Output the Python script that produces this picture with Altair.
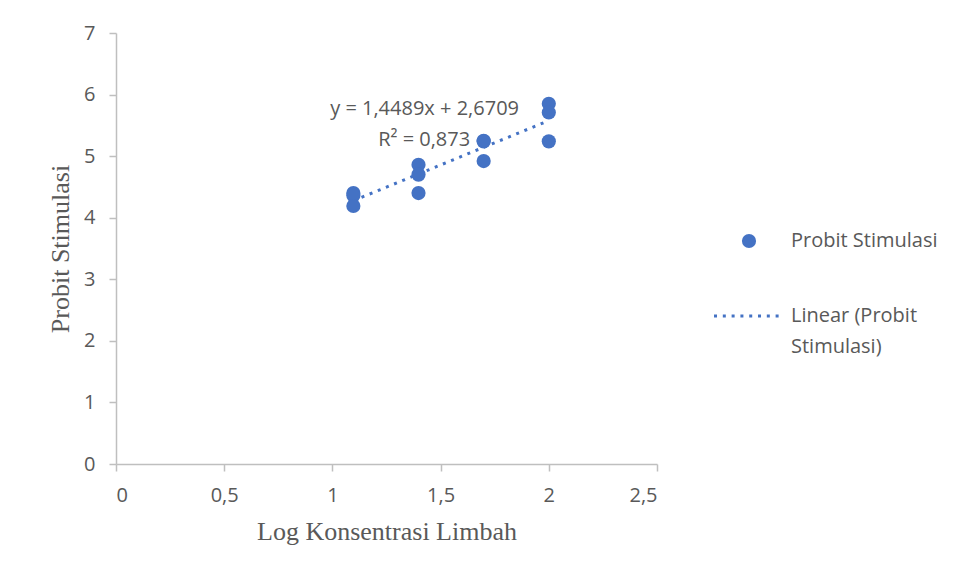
import altair as alt
import pandas as pd

# ---- data ----
log_konsentrasi = [1.0969, 1.0969, 1.0969,
                   1.3979, 1.3979, 1.3979,
                   1.6990, 1.6990, 1.6990,
                   2.0000, 2.0000, 2.0000]
probit = [4.40, 4.36, 4.19,
          4.86, 4.70, 4.40,
          5.25, 5.24, 4.92,
          5.85, 5.71, 5.24]
x_ticks = [0, 0.5, 1, 1.5, 2, 2.5]
y_ticks = [0, 1, 2, 3, 4, 5, 6, 7]
eq_texts = ["y = 1,4489x + 2,6709", "R² = 0,873"]
eq_x = [1.426, 1.424]
eq_y = [5.76, 5.26]
series_name = "Probit Stimulasi"
trend_labels = ["Linear (Probit", "Stimulasi)"]

BLUE = "#4472C4"
GRAY_TXT = "#595959"
GRAY_AX = "#bfbfbf"

df = pd.DataFrame({"x": log_konsentrasi, "y": probit, "seri": series_name})
ann = pd.DataFrame({"x": eq_x, "y": eq_y, "t": eq_texts})

xscale = alt.Scale(domain=[0, 2.5], nice=False, zero=False)
yscale = alt.Scale(domain=[0, 7], nice=False, zero=False)

xaxis = alt.Axis(values=x_ticks, title="Log Konsentrasi Limbah", grid=False,
                 format="~g", labelExpr="replace(datum.label, '.', ',')",
                 labelPadding=14, titlePadding=13)
yaxis = alt.Axis(values=y_ticks, title="Probit Stimulasi", grid=False,
                 format="d", labelPadding=14, titlePadding=10)

legend_common = dict(title=None, orient="none", labelFont="Open Sans",
                     labelFontSize=20, labelColor=GRAY_TXT, padding=0)

trend = (
    alt.Chart(df)
    .transform_regression("x", "y")
    .transform_calculate(seri_tren=f"'{trend_labels[0]}'")
    .mark_line(color=BLUE, strokeWidth=3)
    .encode(
        x=alt.X("x:Q", scale=xscale, axis=xaxis),
        y=alt.Y("y:Q", scale=yscale, axis=yaxis),
        strokeDash=alt.StrokeDash(
            "seri_tren:N",
            scale=alt.Scale(domain=trend_labels, range=[[3, 5.8], [0, 100]]),
            legend=alt.Legend(legendX=621, legendY=273, symbolType="M-4,0H4",
                              symbolSize=272, symbolStrokeWidth=3,
                              symbolStrokeColor=BLUE, labelOffset=34,
                              rowPadding=11, **legend_common),
        ),
    )
)

points = (
    alt.Chart(df)
    .mark_point(filled=True, size=201, opacity=1, color=BLUE, shape="circle")
    .encode(
        x=alt.X("x:Q", scale=xscale),
        y=alt.Y("y:Q", scale=yscale),
        shape=alt.Shape(
            "seri:N",
            scale=alt.Scale(domain=[series_name], range=["circle"]),
            legend=alt.Legend(legendX=623, legendY=198, symbolSize=201,
                              symbolFillColor=BLUE, symbolStrokeWidth=0,
                              symbolOpacity=1, labelOffset=32, **legend_common),
        ),
    )
)

text = (
    alt.Chart(ann)
    .mark_text(font="Open Sans", fontSize=20, color=GRAY_TXT,
               align="center", baseline="middle")
    .encode(x=alt.X("x:Q", scale=xscale), y=alt.Y("y:Q", scale=yscale), text="t:N")
)

chart = (
    alt.layer(trend, points, text)
    .properties(width=541, height=431, autosize="none",
                padding={"left": 108, "top": 25, "right": 295, "bottom": 103})
    .configure_view(stroke=None)
    .configure_axis(domainColor=GRAY_AX, domainWidth=1.5, tickColor=GRAY_AX,
                    tickWidth=1.5, tickSize=7, labelFont="Open Sans",
                    labelFontSize=20, labelColor=GRAY_TXT,
                    titleFont="Liberation Serif", titleFontSize=26,
                    titleFontWeight="normal", titleColor=GRAY_TXT)
)

chart.save("out.html", embed_options={"renderer": "svg", "actions": False})
